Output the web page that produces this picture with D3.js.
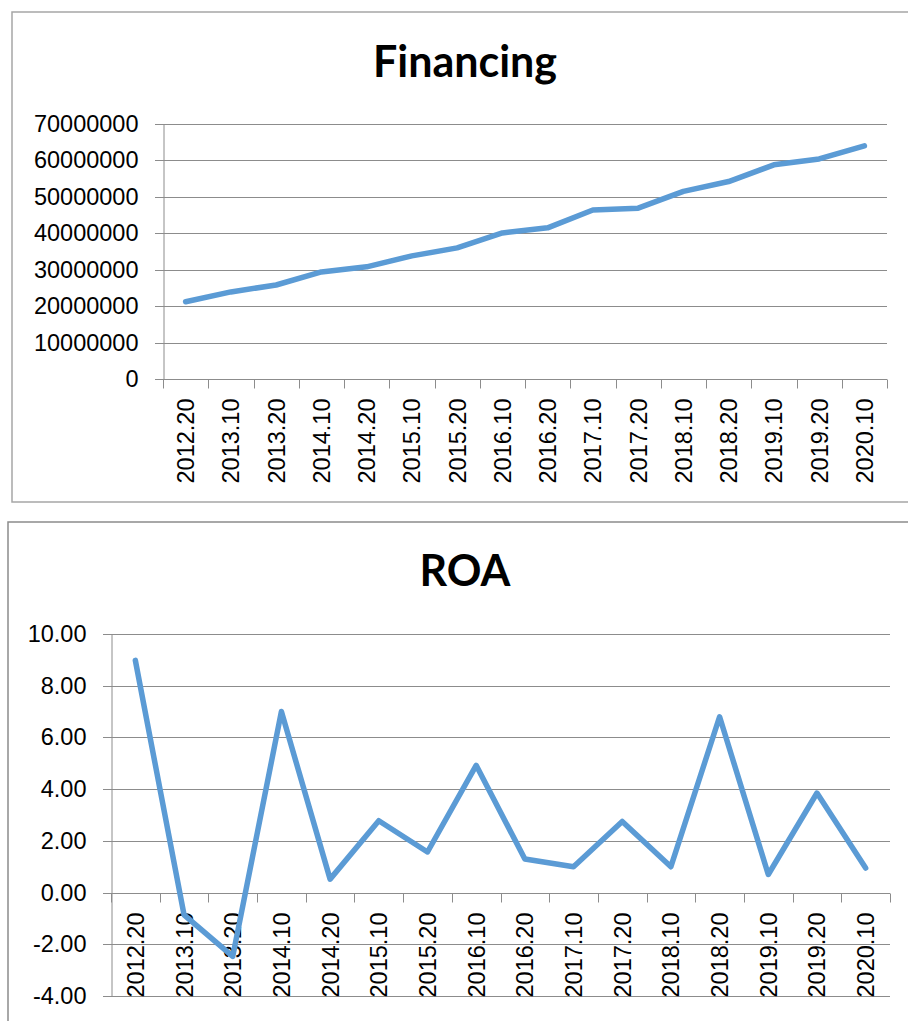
<!DOCTYPE html>
<html>
<head>
<meta charset="utf-8">
<script src="https://cdn.jsdelivr.net/npm/d3@7"></script>
<style>
  body { margin: 0; background: #fff; }
  svg { display: block; }
</style>
</head>
<body>
<svg width="908" height="1021"></svg>
<script>
var svg = d3.select('svg');

var periods = ["2012.20", "2013.10", "2013.20", "2014.10", "2014.20", "2015.10", "2015.20", "2016.10",
    "2016.20", "2017.10", "2017.20", "2018.10", "2018.20", "2019.10", "2019.20", "2020.10"];

var financing = [21200000, 23900000, 25800000, 29400000, 30800000, 33800000, 36000000, 40100000,
    41500000, 46400000, 46900000, 51500000, 54200000, 58800000, 60400000, 64000000];

var roa = [8.98, -0.86, -2.47, 7.0, 0.52, 2.78, 1.57, 4.92,
    1.3, 1.0, 2.75, 1.0, 6.8, 0.7, 3.85, 0.95];

var financingTicks = [0, 10000000, 20000000, 30000000, 40000000, 50000000, 60000000, 70000000];
var roaTicks = [-4, -2, 0, 2, 4, 6, 8, 10];

var lineColor = "#5B9BD5";
var gridColor = "#8c8c8c";
var tickFont = "'Liberation Sans', Arial, sans-serif";

function drawChart(opts) {
    var g = svg.append("g");

    // outer frame
    g.append("rect")
        .attr("x", opts.frame[0])
        .attr("y", opts.frame[1])
        .attr("width", opts.frame[2])
        .attr("height", opts.frame[3])
        .attr("fill", "#fff")
        .attr("stroke", opts.frameColor)
        .attr("stroke-width", 1.5);

    g.append("text")
        .attr("x", opts.titleX)
        .attr("y", opts.titleY)
        .attr("text-anchor", "middle")
        .style("font-family", "Lato, 'Open Sans', sans-serif")
        .style("font-weight", "bold")
        .style("font-size", "43px")
        .text(opts.title);

    var x = d3.scaleBand()
        .domain(periods)
        .range([opts.left, opts.right]);

    var y = d3.scaleLinear()
        .domain(d3.extent(opts.ticks))
        .range([opts.bottom, opts.top]);

    // gridlines
    g.append("g")
        .selectAll("line")
        .data(opts.ticks)
        .enter()
        .append("line")
        .attr("x1", opts.left - 8)
        .attr("x2", opts.right)
        .attr("y1", function(d) { return Math.round(y(d)) + 0.5; })
        .attr("y2", function(d) { return Math.round(y(d)) + 0.5; })
        .style("stroke", gridColor)
        .style("stroke-width", 1);

    // y axis
    var yAxis = g.append("g")
        .attr("transform", "translate(" + (Math.round(opts.left) + 0.5) + ",0)")
        .call(d3.axisLeft(y).tickValues(opts.ticks).tickSize(0).tickPadding(25).tickFormat(opts.fmt));
    yAxis.select(".domain").attr("stroke", gridColor);
    yAxis.selectAll("text")
        .style("font-family", tickFont)
        .style("font-size", "23.5px")
        .attr("fill", "#000");

    // x axis at zero
    var zeroY = Math.round(y(0)) + 0.5;
    var xAxis = g.append("g")
        .attr("transform", "translate(0," + zeroY + ")");
    xAxis.append("line")
        .attr("x1", opts.left)
        .attr("x2", opts.right)
        .style("stroke", gridColor);
    var bounds = periods.map(function(p) { return x(p); }).concat([opts.right]);
    xAxis.selectAll("line.tick")
        .data(bounds)
        .enter()
        .append("line")
        .attr("class", "tick")
        .attr("x1", function(d) { return Math.round(d) + 0.5; })
        .attr("x2", function(d) { return Math.round(d) + 0.5; })
        .attr("y1", 0)
        .attr("y2", 9)
        .style("stroke", gridColor);
    xAxis.selectAll("text")
        .data(periods)
        .enter()
        .append("text")
        .attr("transform", function(d) {
            return "translate(" + (x(d) + x.bandwidth() / 2) + ",19) rotate(-90)";
        })
        .attr("text-anchor", "end")
        .attr("dy", "0.36em")
        .style("font-family", tickFont)
        .style("font-size", "23.5px")
        .text(function(d) { return d; });

    var line = d3.line()
        .x(function(d, i) { return x(periods[i]) + x.bandwidth() / 2; })
        .y(function(d) { return y(d); });

    g.append("path")
        .datum(opts.values)
        .attr("d", line)
        .attr("fill", "none")
        .attr("stroke", lineColor)
        .attr("stroke-width", 5.5)
        .attr("stroke-linejoin", "round")
        .attr("stroke-linecap", "round");
}

drawChart({
    frame: [12, 12, 910, 490],
    frameColor: "#a6a6a6",
    title: "Financing",
    titleX: 465,
    titleY: 77,
    left: 163,
    right: 887,
    top: 124,
    bottom: 379,
    ticks: financingTicks,
    fmt: function(d) { return String(d); },
    values: financing
});

drawChart({
    frame: [8, 522, 910, 520],
    frameColor: "#8c8c8c",
    title: "ROA",
    titleX: 465,
    titleY: 586,
    left: 111,
    right: 890,
    top: 634,
    bottom: 996,
    ticks: roaTicks,
    fmt: function(d) { return d.toFixed(2); },
    values: roa
});
</script>
</body>
</html>
